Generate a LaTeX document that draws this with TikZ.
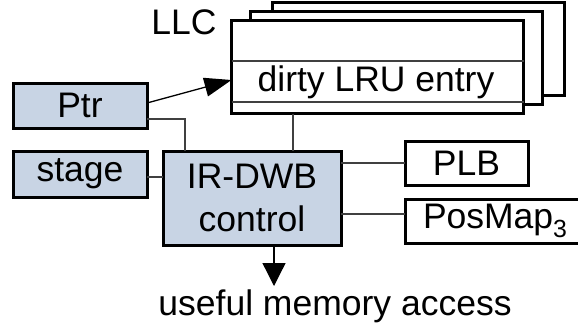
\documentclass[tikz,border=0pt]{standalone}
\usepackage{fontspec}
\setmainfont{Liberation Sans}
\usetikzlibrary{arrows.meta}
\definecolor{boxblue}{HTML}{C8D4E4}
\definecolor{wire}{HTML}{404040}
\tikzset{
  blk/.style={draw=black, line width=3pt, inner sep=0pt, outer sep=0pt,
    font=\fontsize{35.5}{42}\selectfont},
  bluebox/.style={blk, fill=boxblue},
  whitebox/.style={blk, fill=white},
  wireline/.style={draw=wire, line width=1.2pt},
  arrowline/.style={draw=black, line width=1.3pt},
  lbl/.style={inner sep=0pt, font=\fontsize{35.5}{42}\selectfont}
}
\begin{document}
\begin{tikzpicture}[x=1pt, y=-1pt]
\useasboundingbox (0,0) rectangle (578,329);

% LLC stack, back to front
\node[whitebox, minimum width=292pt, minimum height=93pt] (llcc) at (418,49) {};
\node[whitebox, minimum width=292pt, minimum height=93pt] (llcb) at (396,58) {};
\node[whitebox, minimum width=292pt, minimum height=93pt] (llca) at (377.5,67) {};
\draw[wireline] (llca.west |- 0,61) -- (llca.east |- 0,61);
\draw[wireline] (llca.west |- 0,102) -- (llca.east |- 0,102);
\node[lbl] (entry) at (376,82) {dirty LRU entry};
\node[lbl] (llclabel) at (184,22) {LLC};

% control side
\node[bluebox, minimum width=134pt, minimum height=45pt] (ptr) at (80,105.5) {Ptr};
\node[bluebox, minimum width=134pt, minimum height=46pt] (stage) at (80,174) {stage};
\node[bluebox, minimum width=178pt, minimum height=94pt, align=center,
      font=\fontsize{35.5}{43}\selectfont] (ctrl) at (252,198) {IR-DWB\\control};
\node[whitebox, minimum width=123pt, minimum height=44pt] (plb) at (466.5,163) {PLB};
\node[whitebox, minimum height=44pt, anchor=west, inner xsep=18pt,
      text width=140pt, align=left] (posmap) at (405,221)
  {PosMap\textsubscript{3}};

% connectors
\coordinate (ptrjoin) at (185,119);
\draw[wireline] (ptr.east |- ptrjoin) -- (ptrjoin) -- (ptrjoin |- ctrl.north);
\draw[wireline] (llca.south -| 293,0) -- (ctrl.north -| 293,0);
\draw[wireline] (stage.east |- 0,177) -- (ctrl.west |- 0,177);
\draw[wireline] (ctrl.east |- 0,163) -- (plb.west |- 0,163);
\draw[wireline] (ctrl.east |- 0,214) -- (posmap.west |- 0,214);
\draw[arrowline, -{Triangle[length=27pt, width=19pt]}] (ptr.east |- 0,103) -- (llca.west |- 0,80);

% output
\node[lbl, anchor=base] (useful) at (335,315) {useful memory access};
\draw[arrowline, -{Triangle[length=23pt, width=23pt]}] (ctrl.south -| 274,0) -- (274,286);
\end{tikzpicture}
\end{document}
